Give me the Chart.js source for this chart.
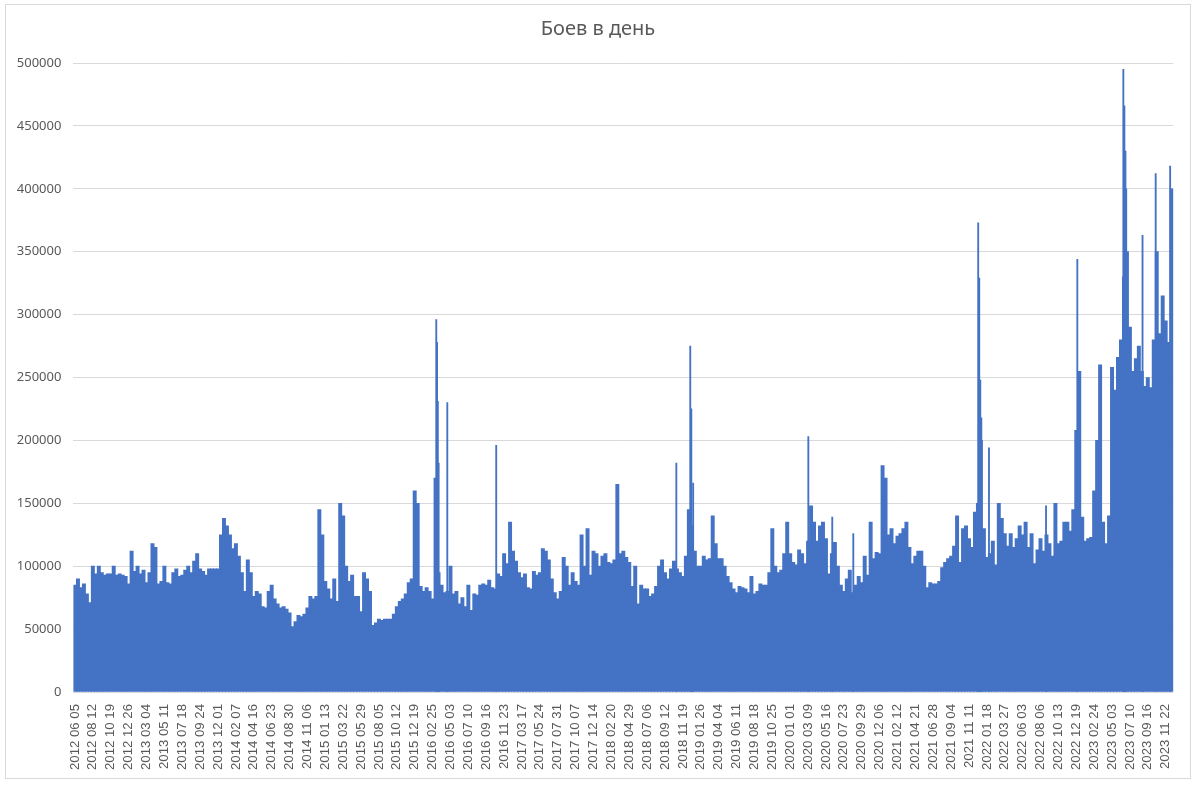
<!DOCTYPE html>
<html>
<head>
<meta charset="utf-8">
<script src="https://cdn.jsdelivr.net/npm/chart.js@4.4.1/dist/chart.umd.min.js"></script>
<style>
  body { margin: 0; background: #fff; }
  #boi { display: block; }
</style>
</head>
<body>
<canvas id="boi" width="1196" height="786"></canvas>
<script>
// tick labels (every 68th day of the data)
var tickLabels = [
    "2012 06 05", "2012 08 12", "2012 10 19", "2012 12 26", "2013 03 04", "2013 05 11",
    "2013 07 18", "2013 09 24", "2013 12 01", "2014 02 07", "2014 04 16", "2014 06 23",
    "2014 08 30", "2014 11 06", "2015 01 13", "2015 03 22", "2015 05 29", "2015 08 05",
    "2015 10 12", "2015 12 19", "2016 02 25", "2016 05 03", "2016 07 10", "2016 09 16",
    "2016 11 23", "2017 03 17", "2017 05 24", "2017 07 31", "2017 10 07", "2017 12 14",
    "2018 02 20", "2018 04 29", "2018 07 06", "2018 09 12", "2018 11 19", "2019 01 26",
    "2019 04 04", "2019 06 11", "2019 08 18", "2019 10 25", "2020 01 01", "2020 03 09",
    "2020 05 16", "2020 07 23", "2020 09 29", "2020 12 06", "2021 02 12", "2021 04 21",
    "2021 06 28", "2021 09 04", "2021 11 11", "2022 01 18", "2022 03 27", "2022 06 03",
    "2022 08 06", "2022 10 13", "2022 12 19", "2023 02 24", "2023 05 03", "2023 07 10",
    "2023 09 16", "2023 11 22"
];
var daysPerTick = 68;
var daysPerSample = 68 / 6;

// battles per day, thousands, read every ~11 days off the picture
var boiK = [
    85, 90, 83, 86, 78, 71, 100, 94, 100, 95,
    93, 94, 94, 100, 93, 94, 93, 92, 86, 112,
    96, 100, 94, 97, 87, 95, 118, 115, 86, 88,
    100, 87, 86, 95, 98, 92, 93, 97, 100, 95,
    104, 110, 98, 96, 93, 98, 98, 98, 98, 125,
    138, 132, 125, 114, 118, 108, 95, 80, 105, 95,
    76, 80, 78, 68, 67, 80, 85, 74, 70, 67,
    68, 66, 63, 52, 56, 61, 60, 62, 67, 76,
    74, 76, 145, 125, 88, 82, 74, 90, 72, 150,
    140, 100, 88, 93, 76, 76, 64, 95, 90, 80,
    53, 55, 58, 57, 58, 58, 58, 62, 68, 72,
    74, 78, 87, 90, 160, 150, 84, 80, 83, 80,
    74, 170, 95, 85, 79, 80, 100, 78, 80, 70,
    75, 68, 85, 65, 78, 77, 85, 86, 85, 89,
    83, 82, 94, 92, 110, 102, 135, 112, 104, 95,
    91, 94, 83, 82, 96, 93, 95, 114, 112, 105,
    90, 79, 74, 80, 107, 100, 85, 95, 88, 85,
    125, 100, 130, 93, 112, 110, 100, 108, 110, 103,
    102, 105, 165, 110, 112, 107, 103, 84, 100, 70,
    85, 82, 82, 76, 78, 84, 100, 105, 95, 90,
    98, 104, 98, 95, 92, 108, 145, 132, 112, 100,
    100, 108, 105, 106, 140, 118, 106, 106, 100, 92,
    87, 82, 79, 84, 83, 82, 79, 92, 78, 80,
    86, 85, 85, 95, 130, 100, 95, 97, 110, 135,
    110, 103, 101, 113, 110, 102, 120, 148, 135, 120,
    132, 135, 122, 94, 110, 119, 100, 85, 80, 90,
    97, 79, 85, 92, 87, 108, 93, 135, 106, 111,
    110, 180, 170, 125, 130, 118, 124, 126, 130, 135,
    115, 102, 108, 112, 112, 100, 83, 87, 86, 86,
    88, 99, 103, 106, 108, 116, 140, 103, 130, 132,
    122, 115, 143, 150, 200, 130, 107, 110, 120, 101,
    150, 138, 126, 116, 126, 115, 122, 132, 125, 135,
    115, 126, 102, 113, 122, 112, 125, 118, 108, 150,
    118, 120, 135, 135, 128, 145, 208, 255, 139, 120,
    122, 123, 160, 200, 260, 135, 118, 140, 258, 240,
    266, 280, 330, 350, 290, 255, 265, 275, 255, 243,
    250, 242, 280, 350, 285, 315, 295, 278, 400
];

// single-day peaks: day number from 2012 06 05, thousands
var spikeDays = [1374, 1377, 1380, 1383, 1416, 1602, 2287, 2340, 2344, 2351, 2789, 2880, 2960,
    3435, 3439, 3443, 3447, 3476, 3693, 3812, 3987, 3991, 3995, 3998, 4060, 4110, 4165];
var spikeK = [296, 278, 231, 182, 230, 196, 182, 275, 225, 166, 203, 139, 126,
    373, 329, 248, 218, 194, 148, 344, 495, 466, 430, 400, 363, 412, 418];

var barColor = "#4472C4";
var gridColor = "#D9D9D9";
var textColor = "#595959";

var basePoints = boiK.map(function (v, i) { return { x: i * daysPerSample, y: v * 1000 }; });
var spikePoints = spikeDays.map(function (d, i) { return { x: d, y: spikeK[i] * 1000 }; });

var frame = {
    id: "frame",
    beforeDraw: function (chart) {
        var c = chart.ctx;
        c.save();
        c.fillStyle = "#fff";
        c.fillRect(0, 0, chart.width, chart.height);
        c.strokeStyle = gridColor;
        c.lineWidth = 1;
        c.strokeRect(5.5, 4.5, 1185, 774);
        c.restore();
    }
};

new Chart("boi", {
    type: "bar",
    data: {
        datasets: [{
            data: basePoints,
            backgroundColor: barColor,
            borderWidth: 0,
            barThickness: 3.3,
            stack: "s"
        }, {
            data: spikePoints,
            backgroundColor: barColor,
            borderWidth: 0,
            barThickness: 1.2,
            stack: "s"
        }]
    },
    options: {
        responsive: false,
        animation: false,
        layout: { padding: 0 },
        plugins: {
            legend: { display: false },
            tooltip: { enabled: false },
            title: {
                display: true,
                text: "Боев в день",
                color: textColor,
                font: { family: "'Noto Sans', sans-serif", size: 20, weight: "normal" },
                padding: { top: 17, bottom: 22 }
            }
        },
        scales: {
            x: {
                type: "linear",
                min: -6,
                max: 4177,
                offset: false,
                grid: { display: false, offset: false },
                border: { display: false },
                afterBuildTicks: function (s) {
                    s.ticks = tickLabels.map(function (t, i) { return { value: i * daysPerTick }; });
                },
                afterFit: function (s) { s.height = 94; },
                ticks: {
                    autoSkip: false,
                    minRotation: 90,
                    maxRotation: 90,
                    padding: 4,
                    color: textColor,
                    font: { family: "'Liberation Sans', sans-serif", size: 13.2 },
                    callback: function (v) { return tickLabels[Math.round(v / daysPerTick)]; }
                }
            },
            y: {
                min: 0,
                max: 500000,
                grid: { color: gridColor, drawTicks: false },
                border: { display: false },
                afterFit: function (s) { s.width = 73.4; },
                ticks: {
                    stepSize: 50000,
                    padding: 12,
                    color: textColor,
                    font: { family: "'Noto Sans', sans-serif", size: 13 },
                    callback: function (v) { return String(v); }
                }
            },
            // empty strip that keeps the plot clear of the right frame
            edge: {
                position: "right",
                display: true,
                grid: { display: false },
                border: { display: false },
                ticks: { display: false },
                afterFit: function (s) { s.width = 22.7; }
            }
        }
    },
    plugins: [frame]
});
</script>
</body>
</html>
